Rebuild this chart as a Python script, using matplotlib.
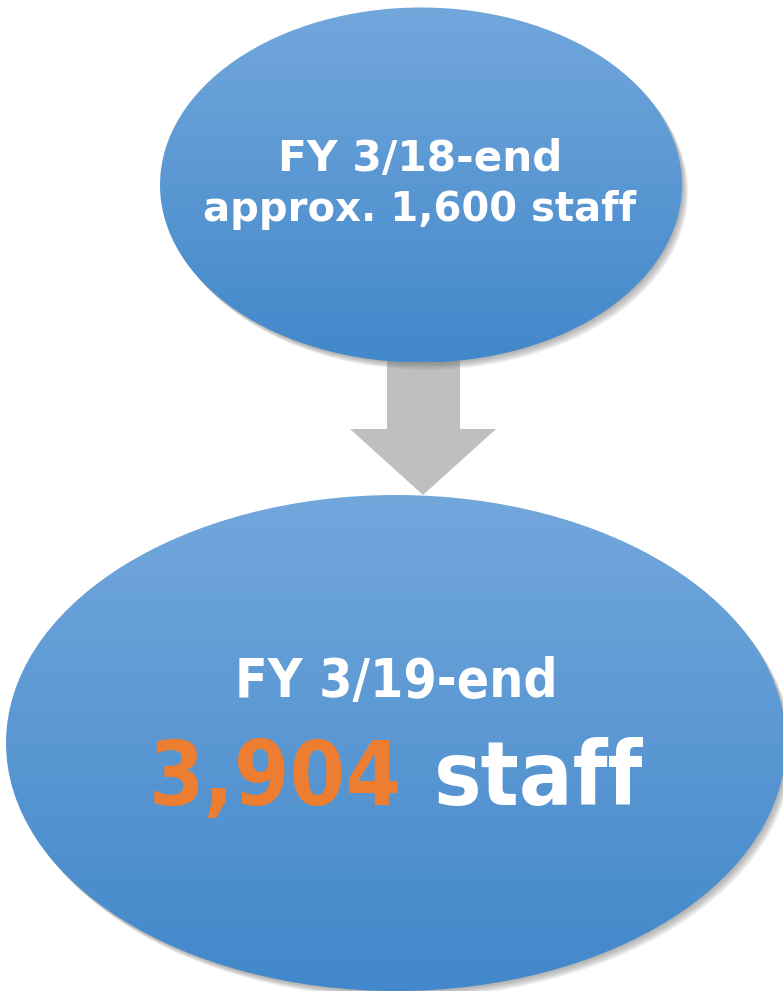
import matplotlib
matplotlib.use("Agg")
import matplotlib.pyplot as plt
import numpy as np
from matplotlib.patches import Ellipse, Polygon
from matplotlib.colors import LinearSegmentedColormap

# ---- content ----
period_labels = ["FY 3/18-end", "FY 3/19-end"]
staff_values = ["approx. 1,600", "3,904"]
unit_label = "staff"

# ---- style ----
W, H = 783, 991
grad_top = "#72a7dc"
grad_bot = "#4288ca"
orange = "#ed7d31"
arrow_col = "#bfbfbf"
FONT = "DejaVu Sans"

fig = plt.figure(figsize=(W / 100, H / 100), dpi=100)
ax = fig.add_axes([0, 0, 1, 1])
ax.set_xlim(0, W)
ax.set_ylim(H, 0)
ax.axis("off")

cmap = LinearSegmentedColormap.from_list("g", [grad_top, grad_bot])


def bubble(cx, cy, w, h):
    # soft shadow (bottom-right)
    for k in range(1, 7):
        sh = Ellipse((cx + 1.0 * k, cy + 1.2 * k), w, h, facecolor="#6f6f6f",
                     edgecolor="none", alpha=0.11, zorder=1)
        ax.add_patch(sh)
    e = Ellipse((cx, cy), w, h, facecolor="none", edgecolor="none", zorder=2)
    ax.add_patch(e)
    grad = np.linspace(0, 1, 256).reshape(-1, 1)
    im = ax.imshow(grad, cmap=cmap, aspect="auto", origin="upper",
                   extent=(cx - w / 2, cx + w / 2, cy + h / 2, cy - h / 2),
                   zorder=2, interpolation="bilinear")
    im.set_clip_path(e)


# arrow (drawn first so the lower bubble covers the tip)
arrow = Polygon([(387, 355), (460, 355), (460, 429), (496, 429), (423, 495),
                 (350, 429), (387, 429)], closed=True, facecolor=arrow_col,
                edgecolor="none", zorder=0.5)
ax.add_patch(arrow)

bubble(421, 185, 522, 355)
bubble(396, 743, 780, 496)

ax.set_xlim(0, W)
ax.set_ylim(H, 0)

# top text
ax.text(420, 171, period_labels[0], ha="center", va="baseline", color="white",
        fontsize=30.4, fontweight="bold", family=FONT, zorder=5)
ax.text(420, 221, f"{staff_values[0]} {unit_label}", ha="center", va="baseline",
        color="white", fontsize=28.9, fontweight="bold", family=FONT, zorder=5)

# bottom text
ax.text(396, 697, period_labels[1], ha="center", va="baseline", color="white",
        fontsize=38.3, fontweight="bold", family=FONT, fontstretch="condensed",
        zorder=5)

fig.canvas.draw()
r = fig.canvas.get_renderer()
big = 64
t1 = ax.text(0, 805, staff_values[1], ha="left", va="baseline", color=orange,
             fontsize=big, fontweight="bold", family=FONT,
             fontstretch="condensed", zorder=5)
t2 = ax.text(0, 805, unit_label, ha="left", va="baseline", color="white",
             fontsize=big, fontweight="bold", family=FONT,
             fontstretch="condensed", zorder=5)
w1 = t1.get_window_extent(r).width
w2 = t2.get_window_extent(r).width
gap = 32
total = w1 + gap + w2
x0 = 396 - total / 2
t1.set_x(x0)
t2.set_x(x0 + w1 + gap)

fig.savefig("out.png", dpi=100, facecolor="white")
